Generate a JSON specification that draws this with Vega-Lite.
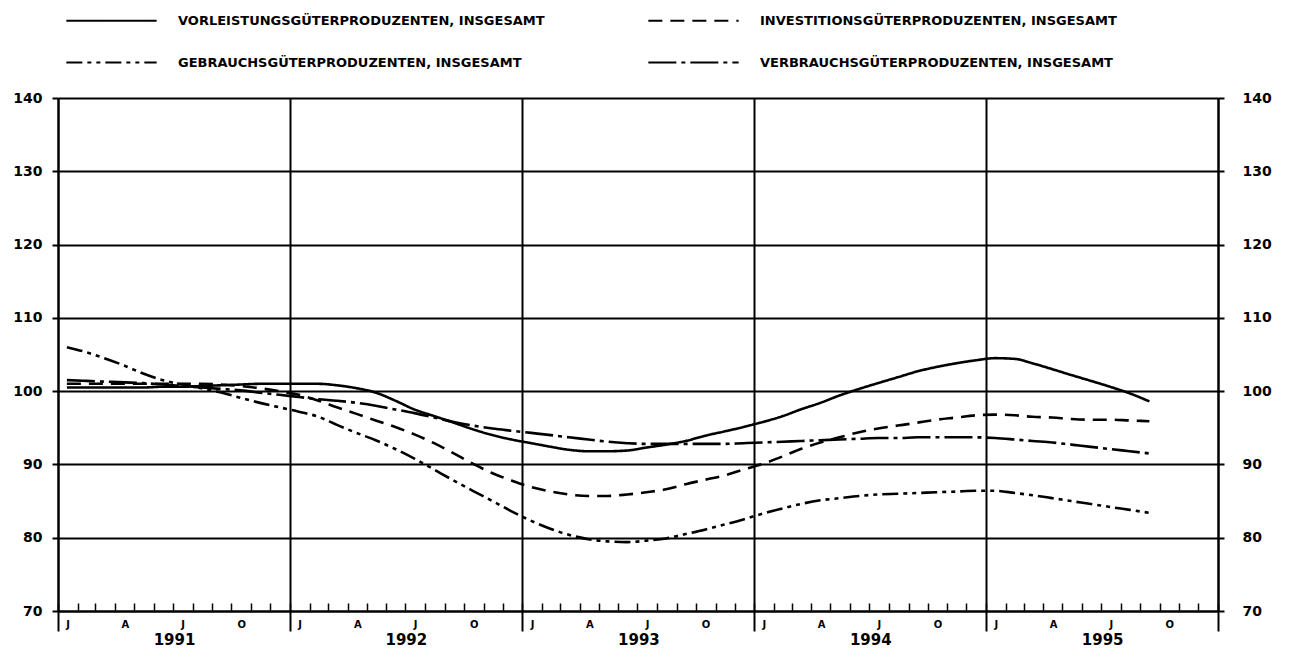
{
  "$schema": "https://vega.github.io/schema/vega-lite/v6.json",
  "width": 1160,
  "height": 513,
  "autosize": {"type": "none"},
  "padding": {"left": 58, "top": 98, "right": 76, "bottom": 46},
  "background": "white",
  "config": {
    "view": {"stroke": null},
    "font": "DejaVu Sans",
    "axis": {"labelFont": "DejaVu Sans", "labelFontWeight": "bold", "labelColor": "black", "gridOpacity": 1, "domainOpacity": 1}
  },
  "data": {
    "values": [
      {"d": "1991-01-15", "V": 100.5, "I": 101.0, "G": 106.0, "B": 101.5},
      {"d": "1991-02-15", "V": 100.5, "I": 101.0, "G": 105.3, "B": 101.4},
      {"d": "1991-03-15", "V": 100.5, "I": 101.0, "G": 104.5, "B": 101.3},
      {"d": "1991-04-15", "V": 100.5, "I": 101.0, "G": 103.5, "B": 101.2},
      {"d": "1991-05-15", "V": 100.5, "I": 101.0, "G": 102.4, "B": 101.1},
      {"d": "1991-06-15", "V": 100.6, "I": 101.0, "G": 101.5, "B": 100.9},
      {"d": "1991-07-15", "V": 100.6, "I": 101.0, "G": 100.9, "B": 100.7},
      {"d": "1991-08-15", "V": 100.7, "I": 101.0, "G": 100.4, "B": 100.5},
      {"d": "1991-09-15", "V": 100.8, "I": 100.9, "G": 99.8, "B": 100.3},
      {"d": "1991-10-15", "V": 100.9, "I": 100.7, "G": 99.1, "B": 100.1},
      {"d": "1991-11-15", "V": 101.0, "I": 100.4, "G": 98.4, "B": 99.8},
      {"d": "1991-12-15", "V": 101.0, "I": 100.0, "G": 97.8, "B": 99.5},
      {"d": "1992-01-15", "V": 101.0, "I": 99.5, "G": 97.2, "B": 99.2},
      {"d": "1992-02-15", "V": 101.0, "I": 98.7, "G": 96.5, "B": 98.9},
      {"d": "1992-03-15", "V": 100.8, "I": 97.8, "G": 95.4, "B": 98.7},
      {"d": "1992-04-15", "V": 100.4, "I": 96.9, "G": 94.3, "B": 98.4},
      {"d": "1992-05-15", "V": 99.8, "I": 96.0, "G": 93.3, "B": 98.0},
      {"d": "1992-06-15", "V": 98.7, "I": 95.1, "G": 92.1, "B": 97.5},
      {"d": "1992-07-15", "V": 97.5, "I": 94.1, "G": 90.8, "B": 97.0},
      {"d": "1992-08-15", "V": 96.6, "I": 92.9, "G": 89.3, "B": 96.4},
      {"d": "1992-09-15", "V": 95.7, "I": 91.5, "G": 87.8, "B": 95.8},
      {"d": "1992-10-15", "V": 94.8, "I": 90.1, "G": 86.4, "B": 95.3},
      {"d": "1992-11-15", "V": 94.0, "I": 88.8, "G": 85.0, "B": 94.9},
      {"d": "1992-12-15", "V": 93.4, "I": 87.8, "G": 83.6, "B": 94.6},
      {"d": "1993-01-15", "V": 92.9, "I": 86.9, "G": 82.3, "B": 94.3},
      {"d": "1993-02-15", "V": 92.4, "I": 86.3, "G": 81.2, "B": 94.0},
      {"d": "1993-03-15", "V": 92.0, "I": 85.9, "G": 80.4, "B": 93.7},
      {"d": "1993-04-15", "V": 91.8, "I": 85.7, "G": 79.8, "B": 93.4},
      {"d": "1993-05-15", "V": 91.8, "I": 85.7, "G": 79.5, "B": 93.1},
      {"d": "1993-06-15", "V": 91.9, "I": 85.9, "G": 79.4, "B": 92.9},
      {"d": "1993-07-15", "V": 92.3, "I": 86.2, "G": 79.6, "B": 92.8},
      {"d": "1993-08-15", "V": 92.7, "I": 86.6, "G": 79.9, "B": 92.8},
      {"d": "1993-09-15", "V": 93.2, "I": 87.3, "G": 80.5, "B": 92.8},
      {"d": "1993-10-15", "V": 93.9, "I": 87.9, "G": 81.1, "B": 92.8},
      {"d": "1993-11-15", "V": 94.5, "I": 88.5, "G": 81.8, "B": 92.8},
      {"d": "1993-12-15", "V": 95.1, "I": 89.3, "G": 82.5, "B": 92.9},
      {"d": "1994-01-15", "V": 95.8, "I": 90.1, "G": 83.3, "B": 93.0},
      {"d": "1994-02-15", "V": 96.6, "I": 91.1, "G": 84.0, "B": 93.1},
      {"d": "1994-03-15", "V": 97.5, "I": 92.1, "G": 84.6, "B": 93.2},
      {"d": "1994-04-15", "V": 98.4, "I": 93.0, "G": 85.1, "B": 93.3},
      {"d": "1994-05-15", "V": 99.4, "I": 93.7, "G": 85.4, "B": 93.4},
      {"d": "1994-06-15", "V": 100.3, "I": 94.4, "G": 85.7, "B": 93.5},
      {"d": "1994-07-15", "V": 101.1, "I": 94.9, "G": 85.9, "B": 93.6},
      {"d": "1994-08-15", "V": 101.9, "I": 95.3, "G": 86.0, "B": 93.6},
      {"d": "1994-09-15", "V": 102.7, "I": 95.7, "G": 86.1, "B": 93.7},
      {"d": "1994-10-15", "V": 103.3, "I": 96.1, "G": 86.2, "B": 93.7},
      {"d": "1994-11-15", "V": 103.8, "I": 96.4, "G": 86.3, "B": 93.7},
      {"d": "1994-12-15", "V": 104.2, "I": 96.7, "G": 86.4, "B": 93.7},
      {"d": "1995-01-15", "V": 104.5, "I": 96.8, "G": 86.4, "B": 93.6},
      {"d": "1995-02-15", "V": 104.4, "I": 96.7, "G": 86.1, "B": 93.4},
      {"d": "1995-03-15", "V": 103.8, "I": 96.5, "G": 85.8, "B": 93.2},
      {"d": "1995-04-15", "V": 103.0, "I": 96.4, "G": 85.4, "B": 93.0},
      {"d": "1995-05-15", "V": 102.2, "I": 96.2, "G": 85.0, "B": 92.7},
      {"d": "1995-06-15", "V": 101.4, "I": 96.1, "G": 84.6, "B": 92.4},
      {"d": "1995-07-15", "V": 100.6, "I": 96.1, "G": 84.2, "B": 92.1},
      {"d": "1995-08-15", "V": 99.7, "I": 96.0, "G": 83.8, "B": 91.8},
      {"d": "1995-09-15", "V": 98.6, "I": 95.9, "G": 83.4, "B": 91.5}
    ]
  },
  "transform": [{"fold": ["V", "I", "G", "B"], "as": ["serie", "wert"]}],
  "layer": [
    {
      "mark": {"type": "line", "color": "black", "strokeWidth": 2.6, "interpolate": "monotone"},
      "encoding": {
        "x": {
          "field": "d", "type": "temporal",
          "scale": {"type": "utc", "domain": [{"year": 1991, "month": 1, "date": 1, "utc": true}, {"year": 1996, "month": 1, "date": 1, "utc": true}]},
          "axis": {
            "orient": "bottom", "title": null,
            "tickCount": {"interval": "month", "step": 1},
            "grid": false, "domain": true, "domainColor": "black", "domainWidth": 2,
            "ticks": true, "tickColor": "black", "tickWidth": 1.5, "tickSize": -8,
            "labelExpr": "utcyear(datum.value) < 1996 && utcmonth(datum.value) % 3 == 0 ? substring(utcFormat(datum.value, '%b'), 0, 1) : ''",
            "labelOffset": 9.7, "labelPadding": 16, "labelFontSize": 10,
            "labelFlush": false, "labelOverlap": false, "labelBound": false
          }
        },
        "y": {
          "field": "wert", "type": "quantitative",
          "scale": {"domain": [70, 140], "nice": false, "zero": false},
          "axis": {
            "orient": "left", "title": null, "values": [70, 80, 90, 100, 110, 120, 130, 140],
            "grid": true, "gridColor": "black", "gridWidth": 2,
            "domain": true, "domainColor": "black", "domainWidth": 2,
            "tickColor": "black", "tickSize": 6, "tickWidth": 2,
            "labelPadding": 10, "labelFontSize": 14
          }
        },
        "strokeDash": {
          "field": "serie", "type": "nominal",
          "scale": {"domain": ["V", "G", "I", "B"], "range": [[1, 0], [16, 5, 4, 5, 4, 5], [14, 8], [28, 5, 4, 5]]},
          "legend": {
            "title": null, "orient": "none", "legendX": 31, "legendY": -100, "columns": 2,
            "symbolType": "M-2.15,0H2.15", "symbolSize": 1764, "symbolStrokeWidth": 2.2,
            "symbolStrokeColor": "black", "symbolFillColor": "transparent",
            "labelOffset": 44, "labelFont": "DejaVu Sans", "labelFontWeight": "bold", "labelFontSize": 13,
            "labelColor": "black", "columnPadding": 98, "rowPadding": 12, "labelLimit": 700,
            "labelExpr": "datum.label == 'V' ? 'VORLEISTUNGSGÜTERPRODUZENTEN, INSGESAMT' : datum.label == 'I' ? 'INVESTITIONSGÜTERPRODUZENTEN, INSGESAMT' : datum.label == 'G' ? 'GEBRAUCHSGÜTERPRODUZENTEN, INSGESAMT' : 'VERBRAUCHSGÜTERPRODUZENTEN, INSGESAMT'"
          }
        }
      }
    },
    {
      "mark": {"type": "line", "strokeOpacity": 0},
      "encoding": {
        "x": {
          "field": "d", "type": "temporal",
          "axis": {
            "orient": "bottom", "title": null,
            "tickCount": {"interval": "year", "step": 1},
            "grid": true, "gridColor": "black", "gridWidth": 2,
            "domain": false, "ticks": true, "tickColor": "black", "tickWidth": 2, "tickSize": 20,
            "labelExpr": "utcyear(datum.value) < 1996 ? utcFormat(datum.value, '%Y') : ''",
            "labelOffset": 116, "labelPadding": 1, "labelFontSize": 15,
            "labelFlush": false, "labelOverlap": false, "labelBound": false
          }
        },
        "y": {
          "field": "wert", "type": "quantitative",
          "axis": {
            "orient": "right", "title": null, "values": [70, 80, 90, 100, 110, 120, 130, 140],
            "grid": false, "domain": true, "domainColor": "black", "domainWidth": 2,
            "tickColor": "black", "tickSize": 6, "tickWidth": 2,
            "labelPadding": 18, "labelFontSize": 14
          }
        },
        "detail": {"field": "serie", "type": "nominal"}
      }
    }
  ],
  "resolve": {"axis": {"x": "independent", "y": "independent"}}
}
